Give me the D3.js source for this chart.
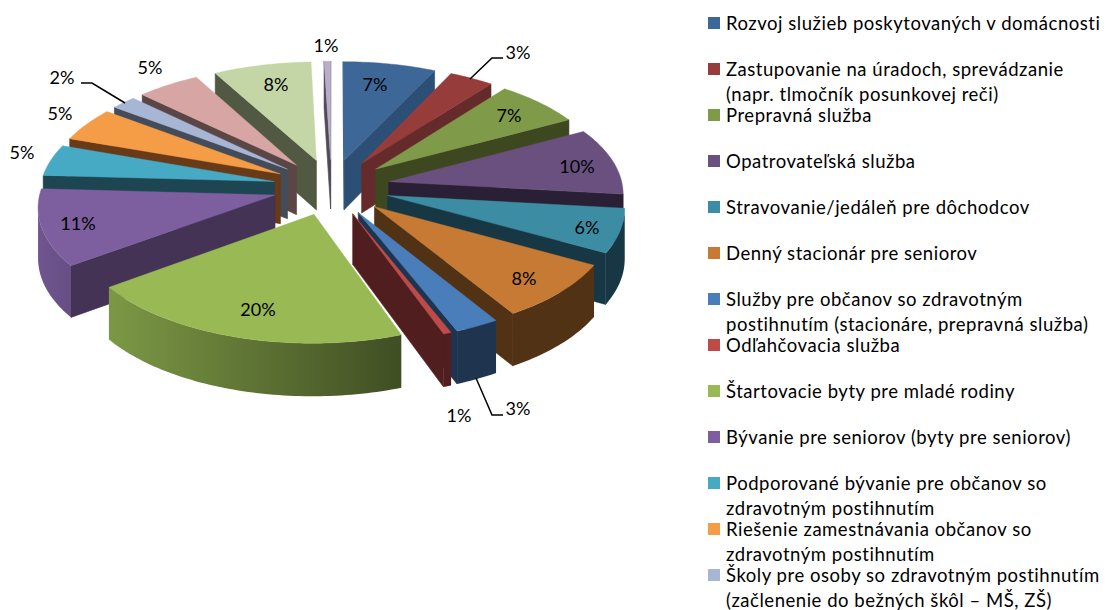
<!DOCTYPE html>
<html><head><meta charset="utf-8">
<script src="https://cdn.jsdelivr.net/npm/d3@7/dist/d3.min.js"></script>
<style>html,body{margin:0;padding:0;background:#fff}svg{display:block}text{font-family:Lato,Carlito,Calibri,sans-serif;fill:#000}</style>
</head><body><svg id="c" width="1106" height="610"></svg>
<script>
// ---- data ----
const values = [7.1, 3.4, 6.7, 9.6, 6.3, 8.2, 2.75, 0.5, 20.5, 10.95, 4.5, 4.85, 1.95, 4.85, 7.5, 0.5];
const percentLabels = ["7%","3%","7%","10%","6%","8%","3%","1%","20%","11%","5%","5%","2%","5%","8%","1%"];
const legendLabels = [
  ["Rozvoj služieb poskytovaných v domácnosti"],
  ["Zastupovanie na úradoch, sprevádzanie","(napr. tlmočník posunkovej reči)"],
  ["Prepravná služba"],
  ["Opatrovateľská služba"],
  ["Stravovanie/jedáleň pre dôchodcov"],
  ["Denný stacionár pre seniorov"],
  ["Služby pre občanov so zdravotným","postihnutím (stacionáre, prepravná služba)"],
  ["Odľahčovacia služba"],
  ["Štartovacie byty pre mladé rodiny"],
  ["Bývanie pre seniorov (byty pre seniorov)"],
  ["Podporované bývanie pre občanov so","zdravotným postihnutím"],
  ["Riešenie zamestnávania občanov so","zdravotným postihnutím"],
  ["Školy pre osoby so zdravotným postihnutím","(začlenenie do bežných škôl – MŠ, ZŠ)"]
];
const topColors = ["#3d6797","#963d3b","#7f9a48","#69507f","#3c8da3","#c67a33","#4a7ebb","#be4b48","#98b954","#7d5fa0","#46aac4","#f59d46","#a7b6d4","#d6a5a4","#c4d5a6","#b9adcb"];
const faceColors = ["#2c4f75","#652b2a","#3d4820","#2a2035","#173744","#523214","#1f344e","#501e1e","#3f4d23","#443355","#1d4552","#683a18","#444c5a","#5a4645","#525943","#4f4a58"];
// ---- layout ----
const cx=331.5, cy=187, Rx=234, Ry=112, persp=0.09, explode=0.25, thick=50;
const labelAt = [[375,85],[518,53],[509,116],[577,167],[587,228],[524,279],[518,409],[459,416],[258,310],[78,224],[22,153],[60,114],[62,78],[150,68],[276,85],[326,46]];
const leaders = {1:[[470,79],[492,58],[503,58]],6:[[476,378],[492,415],[503,415]],12:[[125,103],[92,83],[81,83]]};
const legendX=708, legendY=23, legendStep=46, swatch=12, textX=726, lineGap=25;

const svg=d3.select("#c");
const defs=svg.append("defs");
const project=(u,v,z)=>{const s=1/(1+persp*v);return [cx+u*Rx*s, cy-v*Ry*s+(z?thick*(1-0.05*v):0)];};
const pie=d3.pie().sort(null).startAngle(0).endAngle(2*Math.PI);
const arcs=pie(values);
const line=d3.line();
const shade=d3.scaleLinear().domain([160,234,274]).range([.42,.82,.92]).clamp(true);
const mul=(c,f)=>{const r=d3.rgb(c);return d3.rgb(r.r*f,r.g*f,r.b*f).formatHex();};

const slices=arcs.map((a,i)=>{
  const mid=(a.startAngle+a.endAngle)/2, ou=explode*Math.sin(mid), ov=explode*Math.cos(mid);
  const n=Math.max(2,Math.ceil((a.endAngle-a.startAngle)/0.02));
  const rim=d3.range(n+1).map(k=>{const t=a.startAngle+(a.endAngle-a.startAngle)*k/n;return {t,u:ou+Math.sin(t),v:ov+Math.cos(t)};});
  return {i,ou,ov,rim};
}).sort((p,q)=>q.ov-p.ov);

const g=svg.append("g");
slices.forEach(sl=>{
  const a0=project(sl.ou,sl.ov,0), a1=project(sl.ou,sl.ov,1);
  const c=topColors[sl.i], f=faceColors[sl.i];
  const wall=(p,q,fill)=>{
    if(q[0][0]>=p[0][0]) return;
    g.append("path").attr("d",line([p[0],q[0],q[1],p[1]])+"Z").attr("fill",fill).attr("stroke",fill).attr("stroke-width",.6);
  };
  const pts=sl.rim.map(r=>[project(r.u,r.v,0),project(r.u,r.v,1),r.t]);
  wall([a0,a1],pts[0],f);
  wall(pts[pts.length-1],[a0,a1],f);
  // outer wall: one polygon over the part of the rim that faces the viewer
  const vis=pts.filter((p,k)=>(k<pts.length-1&&pts[k+1][0][0]<p[0][0])||(k>0&&p[0][0]<pts[k-1][0][0]));
  if(vis.length>1){
    let fill=f;
    if(sl.i===8||sl.i===9){
      const id="w"+sl.i, e=[vis[0],vis[vis.length-1]];
      const gr=defs.append("linearGradient").attr("id",id).attr("gradientUnits","userSpaceOnUse")
        .attr("x1",e[1][0][0]).attr("y1",0).attr("x2",e[0][0][0]).attr("y2",0);
      gr.append("stop").attr("offset",0).attr("stop-color",mul(c,shade(e[1][2]*180/Math.PI)));
      gr.append("stop").attr("offset",1).attr("stop-color",mul(c,shade(e[0][2]*180/Math.PI)));
      fill=`url(#${id})`;
    }
    g.append("path").attr("d",line([...vis.map(p=>p[0]),...vis.slice().reverse().map(p=>p[1])])+"Z").attr("fill",fill);
  }
  g.append("path").attr("d",line([a0,...pts.map(p=>p[0])])+"Z").attr("fill",c).attr("stroke",c).attr("stroke-width",.4);
});

Object.values(leaders).forEach(p=>svg.append("path").attr("d",line(p)).attr("fill","none").attr("stroke","#000").attr("stroke-width",1.5));
percentLabels.forEach((t,i)=>svg.append("text").attr("x",labelAt[i][0]).attr("y",labelAt[i][1]).attr("dy","0.36em").attr("text-anchor","middle").attr("font-size",18).text(t));

legendLabels.forEach((lines,i)=>{
  const y=legendY+i*legendStep;
  svg.append("rect").attr("x",legendX).attr("y",y-swatch/2).attr("width",swatch).attr("height",swatch).attr("fill",topColors[i]);
  lines.forEach((t,j)=>svg.append("text").attr("x",textX).attr("y",y+j*lineGap).attr("dy","0.36em").attr("font-size",18.5).attr("letter-spacing",0.53).text(t));
});
</script></body></html>
